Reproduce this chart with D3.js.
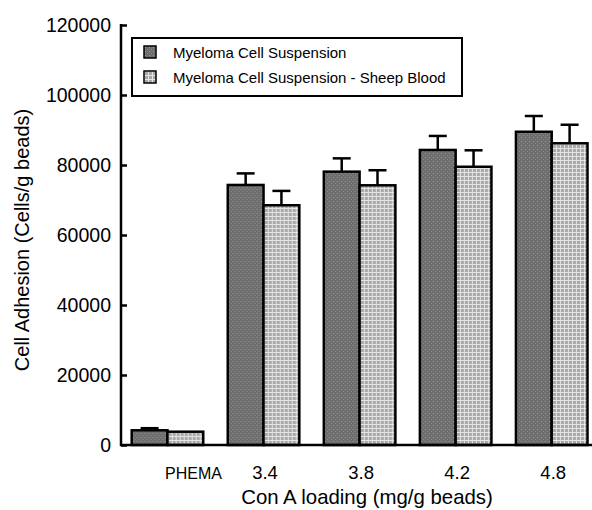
<!DOCTYPE html>
<html>
<head>
<meta charset="utf-8">
<script src="https://cdn.jsdelivr.net/npm/d3@7"></script>
<style>
  html, body { margin: 0; padding: 0; background: #fff; }
  svg { display: block; font-family: "Liberation Sans", Arial, sans-serif; }
</style>
</head>
<body>
<div id="chart"></div>
<script>
// Cell adhesion vs Con A loading
var categories = ['PHEMA', '3.4', '3.8', '4.2', '4.8'];
var seriesNames = ['Myeloma Cell Suspension', 'Myeloma Cell Suspension - Sheep Blood'];
var suspension = [4200, 74300, 78100, 84300, 89500];
var suspensionErr = [600, 3300, 3800, 4000, 4500];
var sheepBlood = [3800, 68500, 74200, 79500, 86200];
var sheepBloodErr = [0, 4100, 4300, 4700, 5300];
var yTicks = [0, 20000, 40000, 60000, 80000, 100000, 120000];

var WIDTH = 592, HEIGHT = 510;
var AX = 121, AY = 445, TOP = 25;

var svg = d3.select('#chart').append('svg').attr('width', WIDTH).attr('height', HEIGHT);

// fill textures
var defs = svg.append('defs');
var pDark = defs.append('pattern').attr('id', 'darkFill').attr('patternUnits', 'userSpaceOnUse')
    .attr('width', 4).attr('height', 4);
pDark.append('rect').attr('width', 4).attr('height', 4).attr('fill', '#6e6e6e');
pDark.append('rect').attr('x', 1).attr('y', 1).attr('width', 1).attr('height', 1).attr('fill', '#9a9a9a');
pDark.append('rect').attr('x', 3).attr('y', 3).attr('width', 1).attr('height', 1).attr('fill', '#8a8a8a');

var pLight = defs.append('pattern').attr('id', 'lightFill').attr('patternUnits', 'userSpaceOnUse')
    .attr('width', 4).attr('height', 4);
pLight.append('rect').attr('width', 4).attr('height', 4).attr('fill', '#a8a8a8');
pLight.append('rect').attr('x', 0).attr('y', 0).attr('width', 4).attr('height', 1).attr('fill', '#e4e4e4');
pLight.append('rect').attr('x', 0).attr('y', 0).attr('width', 1).attr('height', 4).attr('fill', '#e4e4e4');

var fills = ['url(#darkFill)', 'url(#lightFill)'];

var y = d3.scaleLinear().domain([0, 120000]).range([AY, TOP]);
var x0 = d3.scaleBand().domain(categories).range([131.7, 587.5]).paddingInner(0.255).paddingOuter(0);
var x1 = d3.scaleBand().domain([0, 1]).range([0, x0.bandwidth()]);

var data = categories.map(function(c, i) {
    return {
        cat: c,
        vals: [
            {s: 0, v: suspension[i], e: suspensionErr[i]},
            {s: 1, v: sheepBlood[i], e: sheepBloodErr[i]}
        ]
    };
});

var groups = svg.append('g').selectAll('g').data(data).enter().append('g')
    .attr('transform', function(d) { return 'translate(' + x0(d.cat) + ',0)'; });

// error bars first so the bar outline covers their base
groups.selectAll('g.err').data(function(d) { return d.vals.filter(function(v) { return v.e > 0; }); })
    .enter().append('g').attr('class', 'err')
    .each(function(d) {
        var g = d3.select(this), cx = x1(d.s) + x1.bandwidth() / 2;
        g.append('line').attr('x1', cx).attr('x2', cx).attr('y1', y(d.v)).attr('y2', y(d.v + d.e))
            .attr('stroke', '#000').attr('stroke-width', 2.5);
        g.append('line').attr('x1', cx - 9).attr('x2', cx + 9).attr('y1', y(d.v + d.e)).attr('y2', y(d.v + d.e))
            .attr('stroke', '#000').attr('stroke-width', 2.5);
    });

groups.selectAll('rect').data(function(d) { return d.vals; }).enter().append('rect')
    .attr('x', function(d) { return x1(d.s); })
    .attr('y', function(d) { return y(d.v); })
    .attr('width', x1.bandwidth())
    .attr('height', function(d) { return AY - y(d.v); })
    .attr('fill', function(d) { return fills[d.s]; })
    .attr('stroke', '#000').attr('stroke-width', 2.5);

// y axis
var yAxis = d3.axisLeft(y).tickValues(yTicks).tickSize(-6).tickPadding(10).tickFormat(d3.format('d'));
var gy = svg.append('g').attr('transform', 'translate(' + AX + ',0)').call(yAxis);
gy.select('.domain').remove();
gy.selectAll('.tick line').attr('stroke', '#000').attr('stroke-width', 2.5);
gy.selectAll('.tick text').attr('font-size', 19.5).attr('fill', '#000')
    .attr('font-family', '"Liberation Sans", Arial, sans-serif');
svg.append('line').attr('x1', AX).attr('x2', AX).attr('y1', TOP - 1).attr('y2', AY + 1)
    .attr('stroke', '#000').attr('stroke-width', 2.5);

// x axis
var xAxis = d3.axisBottom(x0).tickSize(0).tickPadding(0);
var gx = svg.append('g').attr('transform', 'translate(0,' + AY + ')').call(xAxis);
gx.select('.domain').remove();
gx.selectAll('.tick text').attr('fill', '#000').attr('dy', 0).attr('y', 34)
    .attr('font-family', '"Liberation Sans", Arial, sans-serif')
    .attr('dx', function(d) { return d === 'PHEMA' ? 26 : 1.5; })
    .attr('font-size', function(d) { return d === 'PHEMA' ? 16 : 18.5; });
svg.append('line').attr('x1', AX - 1).attr('x2', WIDTH).attr('y1', AY).attr('y2', AY)
    .attr('stroke', '#000').attr('stroke-width', 2.5);

// axis titles
svg.append('text').attr('x', 367).attr('y', 504).attr('text-anchor', 'middle')
    .attr('font-size', 20.4).text('Con A loading (mg/g beads)');
svg.append('text').attr('transform', 'translate(29,240) rotate(-90)').attr('text-anchor', 'middle')
    .attr('font-size', 20).text('Cell Adhesion (Cells/g beads)');

// legend
var legend = svg.append('g');
legend.append('rect').attr('x', 132).attr('y', 38).attr('width', 330).attr('height', 58)
    .attr('fill', '#fff').attr('stroke', '#000').attr('stroke-width', 2);
var items = legend.selectAll('g.item').data(seriesNames).enter().append('g').attr('class', 'item')
    .attr('transform', function(d, i) { return 'translate(144,' + (46 + i * 25) + ')'; });
items.append('rect').attr('width', 12).attr('height', 12)
    .attr('fill', function(d, i) { return fills[i]; }).attr('stroke', '#000').attr('stroke-width', 1.5);
items.append('text').attr('x', 29).attr('y', 11.5).attr('font-size', 15).text(function(d) { return d; });
</script>
</body>
</html>
